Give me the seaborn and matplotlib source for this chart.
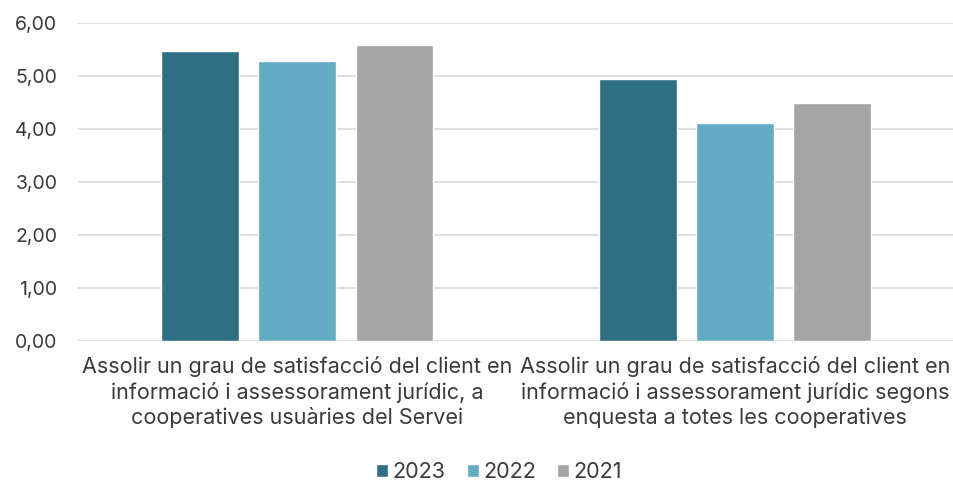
import pandas as pd
import matplotlib
matplotlib.use("Agg")
import matplotlib.pyplot as plt
import seaborn as sns

# Dades del gràfic
categories = [
    "Assolir un grau de satisfacció del client en\ninformació i assessorament jurídic, a\ncooperatives usuàries del Servei",
    "Assolir un grau de satisfacció del client en\ninformació i assessorament jurídic segons\nenquesta a totes les cooperatives",
]
years = ["2023", "2022", "2021"]
values_2023 = [5.48, 4.94]
values_2022 = [5.28, 4.11]
values_2021 = [5.58, 4.50]
colors = ["#2E6F84", "#62ADC3", "#A5A5A5"]

df = pd.DataFrame({
    "categoria": categories * 3,
    "any": [y for y in years for _ in categories],
    "valor": values_2023 + values_2022 + values_2021,
})

sns.set_theme(style="white")
plt.rcParams["font.family"] = ["Inter", "DejaVu Sans"]

fig = plt.figure(figsize=(9.54, 4.83), dpi=100)
ax = fig.add_axes([0.082, 0.294, 0.918, 0.658])

sns.barplot(data=df, x="categoria", y="valor", hue="any", hue_order=years,
            palette=colors, saturation=1, width=0.667, gap=0.2, ax=ax, legend=True)

ax.set_ylim(0, 6)
ax.set_yticks(range(7))
ax.set_yticklabels([f"{v},00" for v in range(7)])
ax.yaxis.grid(True, color="#D9D9D9", linewidth=1.2)
ax.set_axisbelow(True)
for s in ax.spines.values():
    s.set_visible(False)
ax.tick_params(axis="y", length=0, pad=15, labelsize=14, labelcolor="#3A3A3A")
ax.tick_params(axis="x", length=0, pad=11, labelsize=15.5, labelcolor="#3A3A3A")
for lab in ax.get_xticklabels():
    lab.set_linespacing(1.27)
ax.set_xlabel("")
ax.set_ylabel("")

handles, labels = ax.get_legend_handles_labels()
ax.legend(handles, labels, loc="center", bbox_to_anchor=(0.4806, -0.412),
          ncol=3, frameon=False, fontsize=15.5, handlelength=0.55, handleheight=0.55,
          handletextpad=0.2, columnspacing=1.0, labelcolor="#3A3A3A",
          borderpad=0.2)

fig.savefig("out.png", dpi=100)
